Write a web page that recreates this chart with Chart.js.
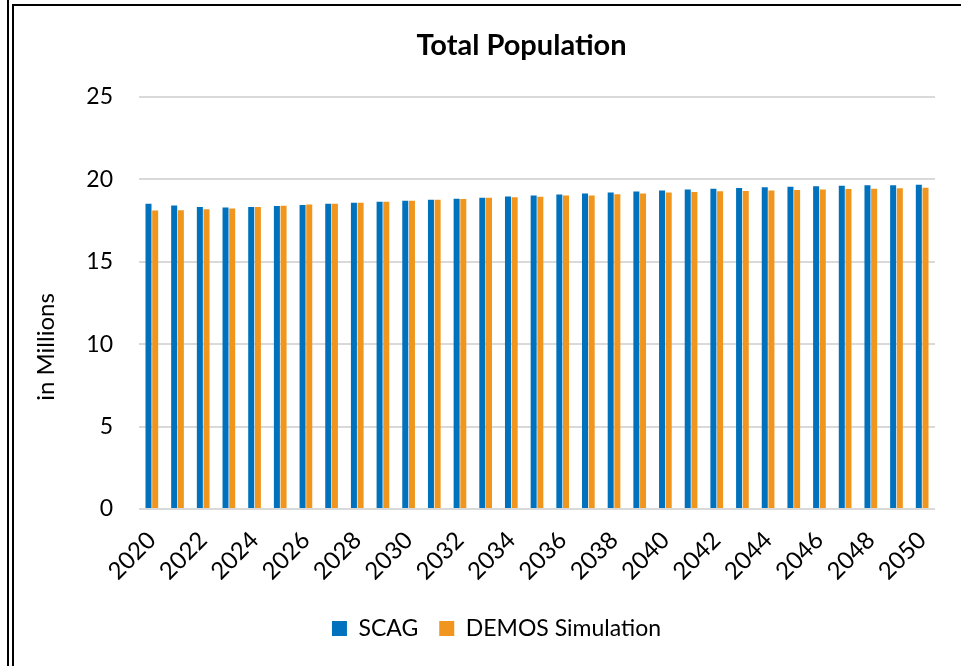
<!DOCTYPE html>
<html>
<head>
<meta charset="utf-8">
<script src="https://cdn.jsdelivr.net/npm/chart.js@4/dist/chart.umd.min.js"></script>
<style>
  html, body { margin: 0; padding: 0; background: #fff; overflow: hidden; }
  body { width: 961px; height: 666px; position: relative; }
  #outerRule { position: absolute; left: 7px; top: 0; width: 2px; height: 666px; background: #000; }
  #frame { position: absolute; left: 12px; top: 4px; width: 970px; height: 700px;
           border-left: 2px solid #000; border-top: 2px solid #000; }
  #wrap { position: absolute; left: 0; top: 0; width: 961px; height: 666px; }
</style>
</head>
<body>
<div id="outerRule"></div>
<div id="frame"></div>
<div id="wrap"><canvas id="chart" width="961" height="666"></canvas></div>
<script>
// Labels
const chartTitle = 'Total Population';
const yAxisTitle = 'in Millions';
const seriesNames = ['SCAG', 'DEMOS Simulation'];

// Years on the category axis
const years = ['2020', '2021', '2022', '2023', '2024', '2025', '2026', '2027', '2028', '2029',
               '2030', '2031', '2032', '2033', '2034', '2035', '2036', '2037', '2038', '2039',
               '2040', '2041', '2042', '2043', '2044', '2045', '2046', '2047', '2048', '2049',
               '2050'];

// Population, in millions
const scagValues = [18.53, 18.41, 18.32, 18.29, 18.33, 18.39, 18.45, 18.52, 18.59, 18.65,
                    18.71, 18.77, 18.83, 18.89, 18.96, 19.02, 19.08, 19.14, 19.20, 19.26,
                    19.32, 19.38, 19.44, 19.48, 19.52, 19.56, 19.58, 19.62, 19.64, 19.65,
                    19.68];
const demosValues = [18.12, 18.13, 18.19, 18.24, 18.32, 18.40, 18.47, 18.53, 18.59, 18.65,
                     18.71, 18.77, 18.81, 18.88, 18.91, 18.94, 19.02, 19.03, 19.10, 19.14,
                     19.20, 19.24, 19.28, 19.30, 19.32, 19.36, 19.38, 19.42, 19.44, 19.46,
                     19.50];

// Value axis range
const yMin = 0;
const yMax = 25;
const yStep = 5;

const FONT = 'Lato, "Open Sans", sans-serif';

// Chart title and rotated axis title
const panelTitles = {
  id: 'panelTitles',
  afterDraw(chart) {
    const ctx = chart.ctx;
    ctx.save();
    ctx.fillStyle = '#000';
    ctx.textAlign = 'center';
    ctx.textBaseline = 'alphabetic';
    ctx.font = 'bold 29px ' + FONT;
    ctx.fillText(chartTitle, 521.5, 55);
    ctx.translate(46, 347);
    ctx.rotate(-Math.PI / 2);
    ctx.font = '24px ' + FONT;
    ctx.textBaseline = 'middle';
    ctx.fillText(yAxisTitle, 0, 0);
    ctx.restore();
  }
};

new Chart(document.getElementById('chart'), {
  type: 'bar',
  data: {
    labels: years,
    datasets: [
      { label: seriesNames[0], data: scagValues, backgroundColor: '#0072BD',
        categoryPercentage: 0.52, barPercentage: 0.9 },
      { label: seriesNames[1], data: demosValues, backgroundColor: '#F0961E',
        categoryPercentage: 0.52, barPercentage: 0.9 }
    ]
  },
  options: {
    responsive: false,
    animation: false,
    devicePixelRatio: 1,
    layout: { padding: { left: 58, right: 26, top: 97, bottom: 16 } },
    plugins: {
      title: { display: false },
      tooltip: { enabled: false },
      legend: {
        position: 'bottom',
        labels: {
          boxWidth: 15,
          boxHeight: 15,
          padding: 21,
          color: '#000',
          font: { family: FONT, size: 23 }
        }
      }
    },
    scales: {
      x: {
        grid: { display: false, drawTicks: false },
        border: { display: false },
        ticks: {
          autoSkip: false,
          maxRotation: 45,
          minRotation: 45,
          padding: 17,
          color: '#000',
          font: { family: FONT, size: 24 },
          callback: function (value, index) {
            return index % 2 === 0 ? this.getLabelForValue(value) : '';
          }
        },
        afterFit(scale) { scale.height = 87; }
      },
      y: {
        min: yMin,
        max: yMax,
        grid: { color: '#D9D9D9', lineWidth: 2, drawTicks: false },
        border: { display: false },
        ticks: {
          stepSize: yStep,
          padding: 26,
          color: '#000',
          font: { family: FONT, size: 23 }
        },
        afterFit(scale) { scale.width = 81; }
      }
    }
  },
  plugins: [panelTitles]
});
</script>
</body>
</html>
